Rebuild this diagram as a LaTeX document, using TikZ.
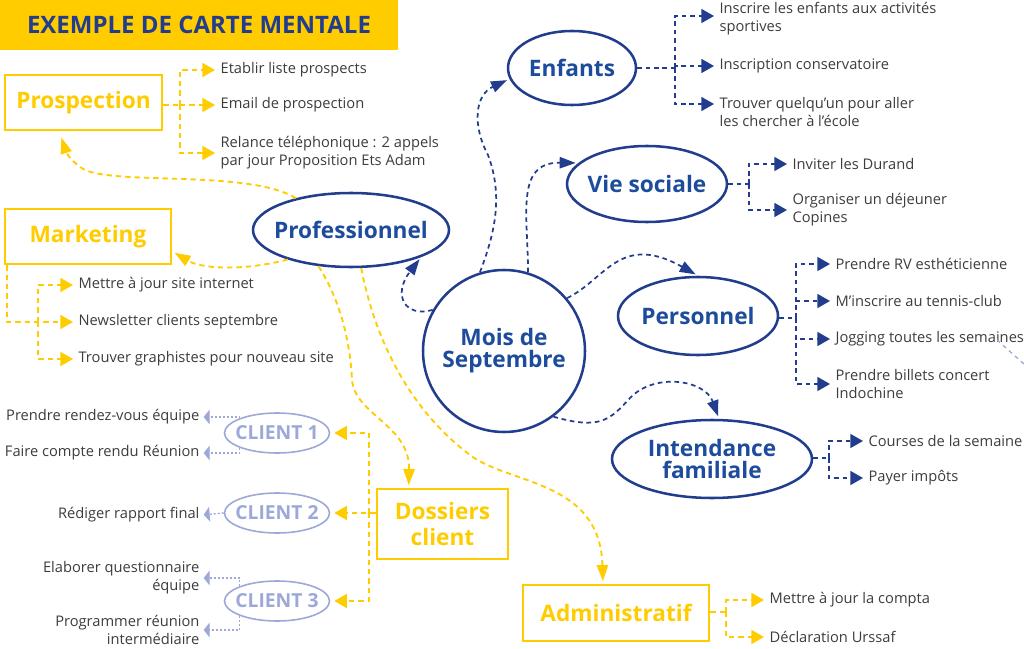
\documentclass[tikz,border=0pt]{standalone}
\usepackage{fontspec}
\setmainfont{Open Sans}
\usepackage{xcolor}
\usepackage{tikz}
\usetikzlibrary{shapes.geometric, arrows.meta, positioning}

\definecolor{mapyellow}{HTML}{FFCC00}
\definecolor{mapnavy}{HTML}{233D8E}
\definecolor{mapblue}{HTML}{1D4C9C}
\definecolor{maplilac}{HTML}{9DA8D9}
\definecolor{mapgray}{HTML}{3C3C3C}

\begin{document}
\begin{tikzpicture}[
    x=0.75pt, y=-0.75pt,
    titlebox/.style={rectangle, fill=mapyellow, minimum width=298.5pt, minimum height=37.5pt, text=mapnavy, font=\fontsize{18}{20}\selectfont\bfseries},
    ybox/.style={rectangle, draw=mapyellow, line width=1.9pt, text=mapyellow, align=center, inner sep=0pt, font=\fontsize{17}{19.5}\selectfont\bfseries},
    topic/.style={ellipse, draw=mapnavy, line width=1.9pt, text=mapblue, align=center, inner xsep=-11pt, inner ysep=0pt, font=\fontsize{17}{16.5}\selectfont\bfseries},
    client/.style={ellipse, draw=maplilac, line width=1.2pt, text=maplilac, inner xsep=-8pt, inner ysep=0pt, minimum width=78.75pt, minimum height=30pt, font=\fontsize{14.5}{16}\selectfont\bfseries},
    item/.style={inner sep=1pt, yshift=-1.5pt, text=mapgray, font=\fontsize{11}{13.5}\selectfont},
    yline/.style={draw=mapyellow, line width=1.4pt, dash pattern=on 4pt off 3pt},
    bline/.style={draw=mapnavy, line width=1.3pt, dash pattern=on 3.5pt off 2.8pt},
    cline/.style={draw=maplilac, line width=1pt, dash pattern=on 1.5pt off 1.5pt},
    tip/.style={-{Triangle[length=9.5pt, width=10.5pt]}, shorten >=3pt},
    bigtip/.style={-{Triangle[length=12pt, width=8.5pt]}, shorten >=2pt},
    ctip/.style={-{Triangle[length=4.5pt, width=11pt]}, shorten >=2pt}
]
\useasboundingbox (0,0) rectangle (1024,649);

% Title
\node[titlebox] (title) at (199,25) {EXEMPLE DE CARTE MENTALE};

% Centre and blue topics
\node[topic, circle, minimum size=121.5pt] (mois) at (504,351) {Mois de\\Septembre};
\node[topic, minimum width=147pt, minimum height=55.5pt] (prof) at (351,230) {Professionnel};
\node[topic, minimum width=96pt, minimum height=55.5pt]  (enf)  at (572,68)  {Enfants};
\node[topic, minimum width=120pt, minimum height=57pt]   (vie)  at (647,184) {Vie sociale};
\node[topic, minimum width=120pt, minimum height=58.5pt] (pers) at (698,316) {Personnel};
\node[topic, minimum width=150pt, minimum height=58.5pt] (int)  at (712,459) {Intendance\\familiale};

% Yellow boxes
\node[ybox, minimum width=117.75pt, minimum height=41.25pt] (prosp) at (83.5,102.5) {Prospection};
\node[ybox, minimum width=124.5pt, minimum height=41.25pt]  (mkt)   at (88,236.5)   {Marketing};
\node[ybox, minimum width=98.25pt, minimum height=52.5pt]   (dos)   at (442.5,524)  {Dossiers\\client};
\node[ybox, minimum width=139.5pt, minimum height=42pt]     (adm)   at (616,613)    {Administratif};

% Clients
\node[client] (c1) at (277,433) {CLIENT 1};
\node[client] (c2) at (277,513) {CLIENT 2};
\node[client] (c3) at (277,601) {CLIENT 3};

% Items, left side
\node[item, anchor=west] (p1) at (219,68)  {Etablir liste prospects};
\node[item, anchor=west] (p2) at (219,103) {Email de prospection};
\node[item, anchor=west, align=left] (p3) at (219,151) {Relance téléphonique : 2 appels\\par jour Proposition Ets Adam};
\node[item, anchor=west] (m1) at (77,283) {Mettre à jour site internet};
\node[item, anchor=west] (m2) at (77,320) {Newsletter clients septembre};
\node[item, anchor=west] (m3) at (77,357) {Trouver graphistes pour nouveau site};
\node[item, anchor=east] (c1a) at (201,415) {Prendre rendez-vous équipe};
\node[item, anchor=east] (c1b) at (201,451) {Faire compte rendu Réunion};
\node[item, anchor=east] (c2a) at (201,513) {Rédiger rapport final};
\node[item, anchor=east, align=right] (c3a) at (201,576) {Elaborer questionnaire\\équipe};
\node[item, anchor=east, align=right] (c3b) at (201,628) {Programmer réunion\\intermédiaire};

% Items, right side
\node[item, anchor=west, align=left] (e1) at (718,17) {Inscrire les enfants aux activités\\sportives};
\node[item, anchor=west] (e2) at (718,64) {Inscription conservatoire};
\node[item, anchor=west, align=left] (e3) at (718,110) {Trouver quelqu’un pour aller\\les chercher à l’école};
\node[item, anchor=west] (v1) at (791,162) {Inviter les Durand};
\node[item, anchor=west, align=left] (v2) at (791,208) {Organiser un déjeuner\\Copines};
\node[item, anchor=west] (s1) at (834,262) {Prendre RV esthéticienne};
\node[item, anchor=west] (s2) at (834,299) {M’inscrire au tennis-club};
\node[item, anchor=west] (s3) at (834,337) {Jogging toutes les semaines};
\node[item, anchor=west, align=left] (s4) at (834,382) {Prendre billets concert\\Indochine};
\node[item, anchor=west] (i1) at (867,439) {Courses de la semaine};
\node[item, anchor=west] (i2) at (867,476) {Payer impôts};
\node[item, anchor=west] (a1) at (768,598) {Mettre à jour la compta};
\node[item, anchor=west] (a2) at (768,635) {Déclaration Urssaf};

% Bus points
\coordinate (pbus) at (180,105);
\coordinate (mbus) at (38,322);
\coordinate (dbus) at (369,513);
\coordinate (ebus) at (675,68);
\coordinate (vbus) at (749,184);
\coordinate (sbus) at (796,318);
\coordinate (ibus) at (829,458);
\coordinate (abus) at (726,612);
\coordinate (jogA) at (997,340);
\coordinate (jogB) at (1024,364);

% Yellow branches
\draw[yline] (prosp.east |- pbus) -- (pbus);
\draw[yline, tip] (pbus) |- (p1.west);
\draw[yline, tip] (pbus) |- (p2.west);
\draw[yline, tip] (pbus) |- (p3.west);
\draw[yline, tip] ([xshift=2.25pt]mkt.south west) |- (m2.west);
\draw[yline, tip] (mbus) |- (m1.west);
\draw[yline, tip] (mbus) |- (m3.west);
\draw[yline, tip] (dos.west |- c2) -- (c2.east);
\draw[yline, tip] (dbus) |- (c1.east);
\draw[yline, tip] (dbus) |- (c3.east);
\draw[yline] (adm.east |- abus) -- (abus);
\draw[yline, tip] (abus) |- (a1.west);
\draw[yline, tip] (abus) |- (a2.west);

% Client branches
\draw[cline, ctip] (c1.north west) |- (c1a.east);
\draw[cline, ctip] (c1.south west) |- (c1b.east);
\draw[cline, ctip] (c2.west) -- (c2a.east);
\draw[cline, ctip] (c3.north west) |- (c3a.east);
\draw[cline, ctip] (c3.south west) |- (c3b.east);

% Blue branches
\draw[bline] (enf.east) -- (ebus);
\draw[bline, tip] (ebus) |- ([yshift=2.25pt]e1.west);
\draw[bline, tip] (ebus) |- (e2.west);
\draw[bline, tip] (ebus) |- ([yshift=6pt]e3.west);
\draw[bline] (vie.east) -- (vbus);
\draw[bline, tip] (vbus) |- (v1.west);
\draw[bline, tip] (vbus) |- (v2.west);
\draw[bline] (pers.east |- sbus) -- (sbus);
\draw[bline, tip] (sbus) |- (s1.west);
\draw[bline, tip] (sbus) |- (s2.west);
\draw[bline, tip] (sbus) |- (s3.west);
\draw[bline, tip] (sbus) |- (s4.west);
\draw[bline] (int.east |- ibus) -- (ibus);
\draw[bline, tip] (ibus) |- (i1.west);
\draw[bline, tip] (ibus) |- (i2.west);

% Curves from the centre
\draw[bline, bigtip] (mois.150) .. controls (405,318) and (392,295) .. (prof.south east);
\draw[bline, bigtip] (mois.107) .. controls (492,240) and (505,200) .. (488,155)
                                .. controls (472,125) and (475,95) .. (enf.190);
\draw[bline, bigtip] (mois.73) .. controls (528,215) and (515,162) .. (vie.163);
\draw[bline, bigtip] (mois.40) .. controls (605,280) and (620,232) .. (pers.north);
\draw[bline, bigtip] (mois.-53) .. controls (600,430) and (610,420) .. (630,398)
                                .. controls (655,372) and (705,380) .. (int.80);

% Curves from Professionnel
\draw[yline, bigtip, shorten >=5pt] (prof.150) .. controls (250,170) and (120,185) .. (85,170)
                                   .. controls (72,163) and (66,152) .. (prosp.230);
\draw[yline, bigtip] (prof.205) .. controls (240,272) and (200,268) .. (mkt.-10);
\draw[yline, bigtip] (prof.228) .. controls (340,300) and (350,340) .. (352,380)
                                .. controls (355,415) and (410,425) .. (dos.133);
\draw[yline, bigtip] (prof.-75) .. controls (375,340) and (410,410) .. (470,455)
                                .. controls (510,485) and (600,480) .. (adm.114);

% Cut-off link at the right edge
\draw[cline, dash pattern=on 3pt off 3pt] (jogA) -- (jogB);
\end{tikzpicture}
\end{document}
